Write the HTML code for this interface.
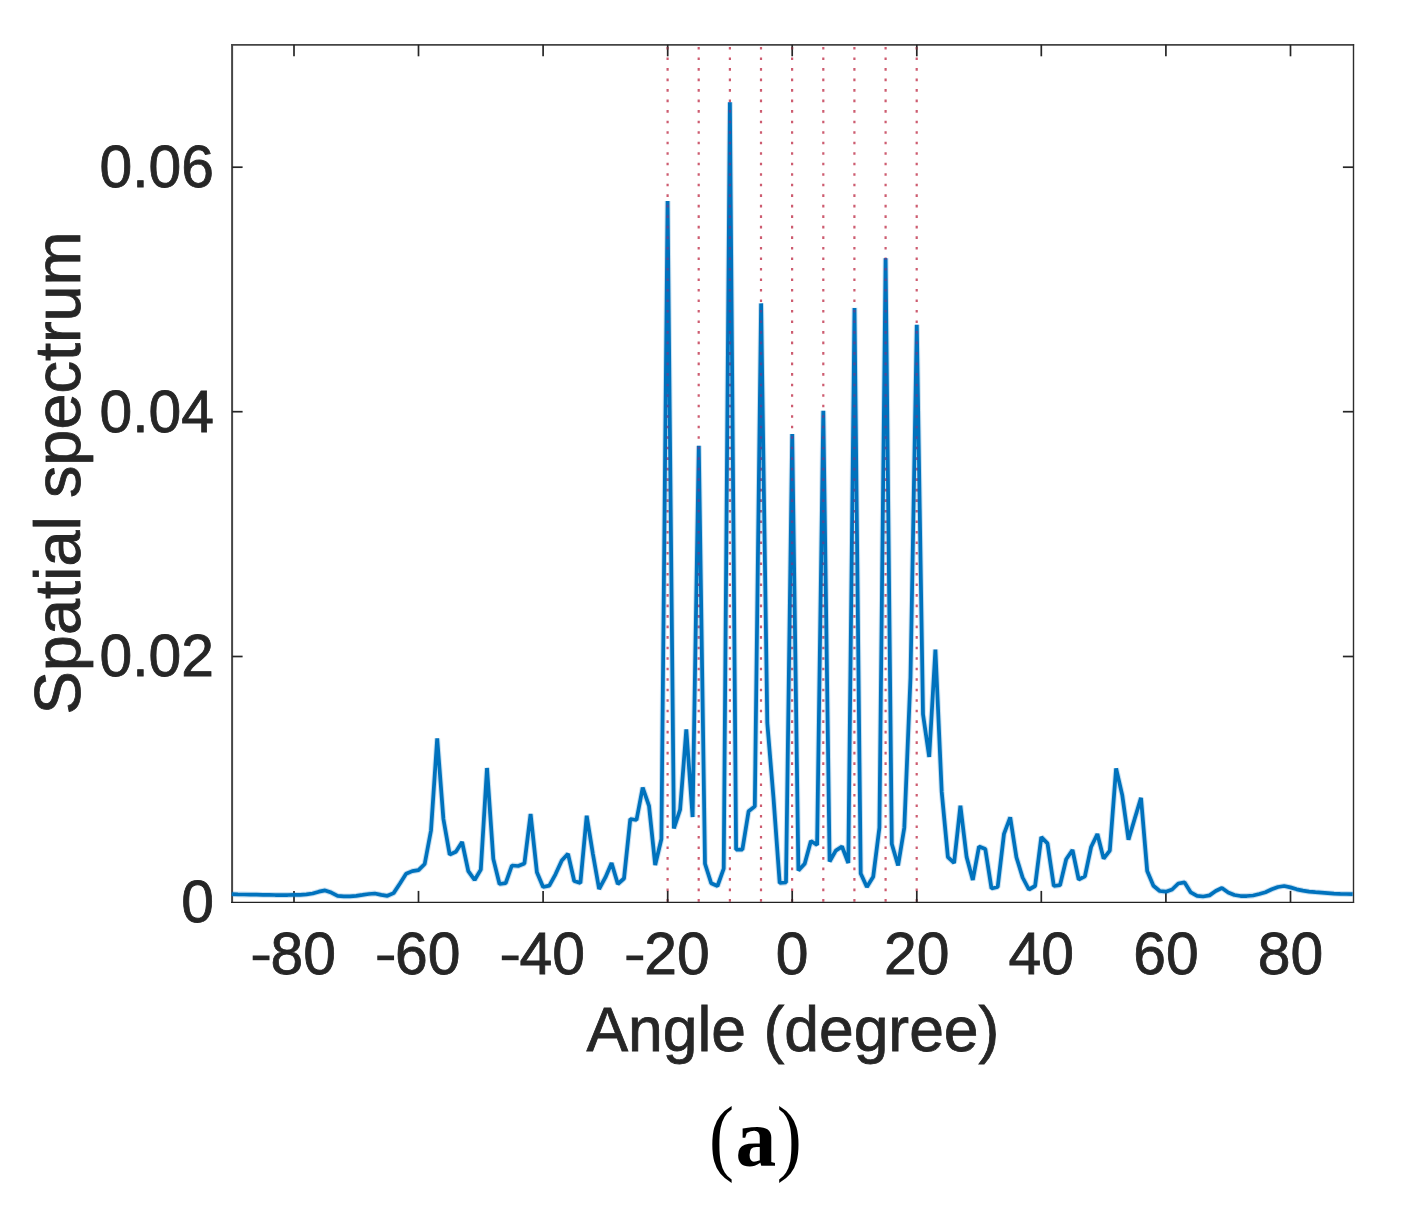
<!DOCTYPE html>
<html><head><meta charset="utf-8"><style>
html,body{margin:0;padding:0;background:#fff;}
body{width:1406px;height:1222px;overflow:hidden;}
svg{display:block;}
text{font-family:"Liberation Sans",sans-serif;fill:#262626;stroke:#262626;stroke-width:0.8px;}
</style></head><body>
<svg width="1406" height="1222" viewBox="0 0 1406 1222">
<rect x="0" y="0" width="1406" height="1222" fill="#fff"/>
<line x1="667.6" y1="47.0" x2="667.6" y2="902.4" stroke="rgb(205,92,112)" stroke-width="2.2" stroke-dasharray="2.6 7.92"/>
<line x1="698.7" y1="47.0" x2="698.7" y2="902.4" stroke="rgb(205,92,112)" stroke-width="2.2" stroke-dasharray="2.6 7.92"/>
<line x1="729.9" y1="47.0" x2="729.9" y2="902.4" stroke="rgb(205,92,112)" stroke-width="2.2" stroke-dasharray="2.6 7.92"/>
<line x1="761.0" y1="47.0" x2="761.0" y2="902.4" stroke="rgb(205,92,112)" stroke-width="2.2" stroke-dasharray="2.6 7.92"/>
<line x1="792.1" y1="47.0" x2="792.1" y2="902.4" stroke="rgb(205,92,112)" stroke-width="2.2" stroke-dasharray="2.6 7.92"/>
<line x1="823.3" y1="47.0" x2="823.3" y2="902.4" stroke="rgb(205,92,112)" stroke-width="2.2" stroke-dasharray="2.6 7.92"/>
<line x1="854.4" y1="47.0" x2="854.4" y2="902.4" stroke="rgb(205,92,112)" stroke-width="2.2" stroke-dasharray="2.6 7.92"/>
<line x1="885.6" y1="47.0" x2="885.6" y2="902.4" stroke="rgb(205,92,112)" stroke-width="2.2" stroke-dasharray="2.6 7.92"/>
<line x1="916.7" y1="47.0" x2="916.7" y2="902.4" stroke="rgb(205,92,112)" stroke-width="2.2" stroke-dasharray="2.6 7.92"/>
<line x1="231.2" y1="44.8" x2="1354.1000000000001" y2="44.8" stroke="#444" stroke-width="1.8"/>
<line x1="232.1" y1="43.9" x2="232.1" y2="903.05" stroke="#464646" stroke-width="2.0"/>
<line x1="231.1" y1="902.4" x2="1354.1000000000001" y2="902.4" stroke="#222" stroke-width="1.3"/>
<line x1="1353.5" y1="43.9" x2="1353.5" y2="903.05" stroke="#2d2d2d" stroke-width="1.4"/>
<line x1="294.0" y1="902.4" x2="294.0" y2="890.9" stroke="#262626" stroke-width="1.7"/>
<line x1="294.0" y1="44.8" x2="294.0" y2="56.3" stroke="#262626" stroke-width="1.7"/>
<line x1="418.5" y1="902.4" x2="418.5" y2="890.9" stroke="#262626" stroke-width="1.7"/>
<line x1="418.5" y1="44.8" x2="418.5" y2="56.3" stroke="#262626" stroke-width="1.7"/>
<line x1="543.1" y1="902.4" x2="543.1" y2="890.9" stroke="#262626" stroke-width="1.7"/>
<line x1="543.1" y1="44.8" x2="543.1" y2="56.3" stroke="#262626" stroke-width="1.7"/>
<line x1="667.7" y1="902.4" x2="667.7" y2="890.9" stroke="#262626" stroke-width="1.7"/>
<line x1="667.7" y1="44.8" x2="667.7" y2="56.3" stroke="#262626" stroke-width="1.7"/>
<line x1="792.2" y1="902.4" x2="792.2" y2="890.9" stroke="#262626" stroke-width="1.7"/>
<line x1="792.2" y1="44.8" x2="792.2" y2="56.3" stroke="#262626" stroke-width="1.7"/>
<line x1="916.8" y1="902.4" x2="916.8" y2="890.9" stroke="#262626" stroke-width="1.7"/>
<line x1="916.8" y1="44.8" x2="916.8" y2="56.3" stroke="#262626" stroke-width="1.7"/>
<line x1="1041.3" y1="902.4" x2="1041.3" y2="890.9" stroke="#262626" stroke-width="1.7"/>
<line x1="1041.3" y1="44.8" x2="1041.3" y2="56.3" stroke="#262626" stroke-width="1.7"/>
<line x1="1165.9" y1="902.4" x2="1165.9" y2="890.9" stroke="#262626" stroke-width="1.7"/>
<line x1="1165.9" y1="44.8" x2="1165.9" y2="56.3" stroke="#262626" stroke-width="1.7"/>
<line x1="1290.5" y1="902.4" x2="1290.5" y2="890.9" stroke="#262626" stroke-width="1.7"/>
<line x1="1290.5" y1="44.8" x2="1290.5" y2="56.3" stroke="#262626" stroke-width="1.7"/>
<line x1="232.1" y1="167.2" x2="242.6" y2="167.2" stroke="#262626" stroke-width="1.7"/>
<line x1="1353.4" y1="167.2" x2="1342.9" y2="167.2" stroke="#262626" stroke-width="1.7"/>
<line x1="232.1" y1="411.7" x2="242.6" y2="411.7" stroke="#262626" stroke-width="1.7"/>
<line x1="1353.4" y1="411.7" x2="1342.9" y2="411.7" stroke="#262626" stroke-width="1.7"/>
<line x1="232.1" y1="656.5" x2="242.6" y2="656.5" stroke="#262626" stroke-width="1.7"/>
<line x1="1353.4" y1="656.5" x2="1342.9" y2="656.5" stroke="#262626" stroke-width="1.7"/>
<polyline points="231.7,894.2 237.9,894.4 244.1,894.5 250.4,894.6 256.6,894.7 262.8,894.8 269.0,894.9 275.3,895.0 281.5,895.0 287.7,895.0 294.0,894.9 300.2,894.9 306.4,894.4 312.6,893.5 318.9,891.7 325.1,890.4 331.3,892.6 337.6,895.8 343.8,896.4 350.0,896.4 356.2,895.8 362.5,894.9 368.7,894.0 374.9,893.5 381.2,894.9 387.4,895.8 393.6,893.1 399.8,883.7 406.1,873.8 412.3,871.1 418.5,870.2 424.7,864.0 431.0,830.5 437.2,738.5 443.4,819.0 449.7,854.6 455.9,851.7 462.1,842.0 468.3,871.1 474.6,880.0 480.8,869.6 487.0,768.0 493.3,858.9 499.5,884.0 505.7,883.2 511.9,865.5 518.2,866.0 524.4,863.5 530.6,814.0 536.9,872.3 543.1,887.0 549.3,885.6 555.5,874.3 561.8,860.5 568.0,853.8 574.2,881.0 580.4,883.0 586.7,815.7 592.9,854.0 599.1,889.0 605.4,877.4 611.6,863.0 617.8,884.0 624.0,878.5 630.3,819.0 636.5,820.0 642.7,787.5 649.0,805.8 655.2,865.0 661.4,839.0 667.6,201.1 673.9,828.5 680.1,809.7 686.3,729.5 692.6,817.0 698.8,445.8 705.0,863.7 711.2,883.3 717.5,886.0 723.7,868.6 729.9,102.2 736.1,849.5 742.4,849.5 748.6,811.3 754.8,806.4 761.1,303.4 767.3,723.0 773.5,798.0 779.7,883.0 786.0,882.5 792.2,434.0 798.4,870.5 804.7,863.7 810.9,841.0 817.1,845.0 823.3,410.7 829.6,861.5 835.8,850.6 842.0,846.5 848.3,863.0 854.5,307.9 860.7,873.5 866.9,887.0 873.2,876.8 879.4,827.7 885.6,258.3 891.8,844.0 898.1,865.5 904.3,827.7 910.5,677.5 916.8,324.8 923.0,714.3 929.2,757.0 935.4,649.5 941.7,791.7 947.9,857.1 954.1,863.0 960.4,805.6 966.6,857.1 972.8,880.0 979.0,846.5 985.3,849.0 991.5,888.5 997.7,887.0 1004.0,833.8 1010.2,817.3 1016.4,857.2 1022.6,877.5 1028.9,889.5 1035.1,886.0 1041.3,837.0 1047.5,843.4 1053.8,886.0 1060.0,885.2 1066.2,859.3 1072.5,850.0 1078.7,879.5 1084.9,876.4 1091.1,847.0 1097.4,834.0 1103.6,858.6 1109.8,850.7 1116.1,768.4 1122.3,795.4 1128.5,839.8 1134.7,818.7 1141.0,797.9 1147.2,871.0 1153.4,885.7 1159.7,891.0 1165.9,891.7 1172.1,889.5 1178.3,883.5 1184.6,882.4 1190.8,892.4 1197.0,895.8 1203.2,896.5 1209.5,895.4 1215.7,891.0 1221.9,888.0 1228.2,892.5 1234.4,895.0 1240.6,896.0 1246.8,896.0 1253.1,895.5 1259.3,894.0 1265.5,892.2 1271.8,889.3 1278.0,887.0 1284.2,886.0 1290.4,887.4 1296.7,889.3 1302.9,890.7 1309.1,891.7 1315.4,892.2 1321.6,892.6 1327.8,893.1 1334.0,893.6 1340.3,893.9 1346.5,894.0 1352.7,894.2" fill="none" stroke="#0072BD" stroke-opacity="0.22" stroke-width="5.8" stroke-linejoin="bevel" stroke-linecap="butt"/>
<polyline points="231.7,894.2 237.9,894.4 244.1,894.5 250.4,894.6 256.6,894.7 262.8,894.8 269.0,894.9 275.3,895.0 281.5,895.0 287.7,895.0 294.0,894.9 300.2,894.9 306.4,894.4 312.6,893.5 318.9,891.7 325.1,890.4 331.3,892.6 337.6,895.8 343.8,896.4 350.0,896.4 356.2,895.8 362.5,894.9 368.7,894.0 374.9,893.5 381.2,894.9 387.4,895.8 393.6,893.1 399.8,883.7 406.1,873.8 412.3,871.1 418.5,870.2 424.7,864.0 431.0,830.5 437.2,738.5 443.4,819.0 449.7,854.6 455.9,851.7 462.1,842.0 468.3,871.1 474.6,880.0 480.8,869.6 487.0,768.0 493.3,858.9 499.5,884.0 505.7,883.2 511.9,865.5 518.2,866.0 524.4,863.5 530.6,814.0 536.9,872.3 543.1,887.0 549.3,885.6 555.5,874.3 561.8,860.5 568.0,853.8 574.2,881.0 580.4,883.0 586.7,815.7 592.9,854.0 599.1,889.0 605.4,877.4 611.6,863.0 617.8,884.0 624.0,878.5 630.3,819.0 636.5,820.0 642.7,787.5 649.0,805.8 655.2,865.0 661.4,839.0 667.6,201.1 673.9,828.5 680.1,809.7 686.3,729.5 692.6,817.0 698.8,445.8 705.0,863.7 711.2,883.3 717.5,886.0 723.7,868.6 729.9,102.2 736.1,849.5 742.4,849.5 748.6,811.3 754.8,806.4 761.1,303.4 767.3,723.0 773.5,798.0 779.7,883.0 786.0,882.5 792.2,434.0 798.4,870.5 804.7,863.7 810.9,841.0 817.1,845.0 823.3,410.7 829.6,861.5 835.8,850.6 842.0,846.5 848.3,863.0 854.5,307.9 860.7,873.5 866.9,887.0 873.2,876.8 879.4,827.7 885.6,258.3 891.8,844.0 898.1,865.5 904.3,827.7 910.5,677.5 916.8,324.8 923.0,714.3 929.2,757.0 935.4,649.5 941.7,791.7 947.9,857.1 954.1,863.0 960.4,805.6 966.6,857.1 972.8,880.0 979.0,846.5 985.3,849.0 991.5,888.5 997.7,887.0 1004.0,833.8 1010.2,817.3 1016.4,857.2 1022.6,877.5 1028.9,889.5 1035.1,886.0 1041.3,837.0 1047.5,843.4 1053.8,886.0 1060.0,885.2 1066.2,859.3 1072.5,850.0 1078.7,879.5 1084.9,876.4 1091.1,847.0 1097.4,834.0 1103.6,858.6 1109.8,850.7 1116.1,768.4 1122.3,795.4 1128.5,839.8 1134.7,818.7 1141.0,797.9 1147.2,871.0 1153.4,885.7 1159.7,891.0 1165.9,891.7 1172.1,889.5 1178.3,883.5 1184.6,882.4 1190.8,892.4 1197.0,895.8 1203.2,896.5 1209.5,895.4 1215.7,891.0 1221.9,888.0 1228.2,892.5 1234.4,895.0 1240.6,896.0 1246.8,896.0 1253.1,895.5 1259.3,894.0 1265.5,892.2 1271.8,889.3 1278.0,887.0 1284.2,886.0 1290.4,887.4 1296.7,889.3 1302.9,890.7 1309.1,891.7 1315.4,892.2 1321.6,892.6 1327.8,893.1 1334.0,893.6 1340.3,893.9 1346.5,894.0 1352.7,894.2" fill="none" stroke="#0072BD" stroke-width="3.75" stroke-linejoin="bevel" stroke-linecap="butt"/>
<mask id="cm" maskUnits="userSpaceOnUse" x="0" y="0" width="1406" height="1222"><polyline points="231.7,894.2 237.9,894.4 244.1,894.5 250.4,894.6 256.6,894.7 262.8,894.8 269.0,894.9 275.3,895.0 281.5,895.0 287.7,895.0 294.0,894.9 300.2,894.9 306.4,894.4 312.6,893.5 318.9,891.7 325.1,890.4 331.3,892.6 337.6,895.8 343.8,896.4 350.0,896.4 356.2,895.8 362.5,894.9 368.7,894.0 374.9,893.5 381.2,894.9 387.4,895.8 393.6,893.1 399.8,883.7 406.1,873.8 412.3,871.1 418.5,870.2 424.7,864.0 431.0,830.5 437.2,738.5 443.4,819.0 449.7,854.6 455.9,851.7 462.1,842.0 468.3,871.1 474.6,880.0 480.8,869.6 487.0,768.0 493.3,858.9 499.5,884.0 505.7,883.2 511.9,865.5 518.2,866.0 524.4,863.5 530.6,814.0 536.9,872.3 543.1,887.0 549.3,885.6 555.5,874.3 561.8,860.5 568.0,853.8 574.2,881.0 580.4,883.0 586.7,815.7 592.9,854.0 599.1,889.0 605.4,877.4 611.6,863.0 617.8,884.0 624.0,878.5 630.3,819.0 636.5,820.0 642.7,787.5 649.0,805.8 655.2,865.0 661.4,839.0 667.6,201.1 673.9,828.5 680.1,809.7 686.3,729.5 692.6,817.0 698.8,445.8 705.0,863.7 711.2,883.3 717.5,886.0 723.7,868.6 729.9,102.2 736.1,849.5 742.4,849.5 748.6,811.3 754.8,806.4 761.1,303.4 767.3,723.0 773.5,798.0 779.7,883.0 786.0,882.5 792.2,434.0 798.4,870.5 804.7,863.7 810.9,841.0 817.1,845.0 823.3,410.7 829.6,861.5 835.8,850.6 842.0,846.5 848.3,863.0 854.5,307.9 860.7,873.5 866.9,887.0 873.2,876.8 879.4,827.7 885.6,258.3 891.8,844.0 898.1,865.5 904.3,827.7 910.5,677.5 916.8,324.8 923.0,714.3 929.2,757.0 935.4,649.5 941.7,791.7 947.9,857.1 954.1,863.0 960.4,805.6 966.6,857.1 972.8,880.0 979.0,846.5 985.3,849.0 991.5,888.5 997.7,887.0 1004.0,833.8 1010.2,817.3 1016.4,857.2 1022.6,877.5 1028.9,889.5 1035.1,886.0 1041.3,837.0 1047.5,843.4 1053.8,886.0 1060.0,885.2 1066.2,859.3 1072.5,850.0 1078.7,879.5 1084.9,876.4 1091.1,847.0 1097.4,834.0 1103.6,858.6 1109.8,850.7 1116.1,768.4 1122.3,795.4 1128.5,839.8 1134.7,818.7 1141.0,797.9 1147.2,871.0 1153.4,885.7 1159.7,891.0 1165.9,891.7 1172.1,889.5 1178.3,883.5 1184.6,882.4 1190.8,892.4 1197.0,895.8 1203.2,896.5 1209.5,895.4 1215.7,891.0 1221.9,888.0 1228.2,892.5 1234.4,895.0 1240.6,896.0 1246.8,896.0 1253.1,895.5 1259.3,894.0 1265.5,892.2 1271.8,889.3 1278.0,887.0 1284.2,886.0 1290.4,887.4 1296.7,889.3 1302.9,890.7 1309.1,891.7 1315.4,892.2 1321.6,892.6 1327.8,893.1 1334.0,893.6 1340.3,893.9 1346.5,894.0 1352.7,894.2" fill="none" stroke="#fff" stroke-width="3.75" stroke-linejoin="bevel"/></mask>
<g mask="url(#cm)"><line x1="667.6" y1="47.0" x2="667.6" y2="902.4" stroke="rgb(85,72,150)" stroke-width="2.2" stroke-dasharray="2.6 7.92"/><line x1="698.7" y1="47.0" x2="698.7" y2="902.4" stroke="rgb(85,72,150)" stroke-width="2.2" stroke-dasharray="2.6 7.92"/><line x1="729.9" y1="47.0" x2="729.9" y2="902.4" stroke="rgb(85,72,150)" stroke-width="2.2" stroke-dasharray="2.6 7.92"/><line x1="761.0" y1="47.0" x2="761.0" y2="902.4" stroke="rgb(85,72,150)" stroke-width="2.2" stroke-dasharray="2.6 7.92"/><line x1="792.1" y1="47.0" x2="792.1" y2="902.4" stroke="rgb(85,72,150)" stroke-width="2.2" stroke-dasharray="2.6 7.92"/><line x1="823.3" y1="47.0" x2="823.3" y2="902.4" stroke="rgb(85,72,150)" stroke-width="2.2" stroke-dasharray="2.6 7.92"/><line x1="854.4" y1="47.0" x2="854.4" y2="902.4" stroke="rgb(85,72,150)" stroke-width="2.2" stroke-dasharray="2.6 7.92"/><line x1="885.6" y1="47.0" x2="885.6" y2="902.4" stroke="rgb(85,72,150)" stroke-width="2.2" stroke-dasharray="2.6 7.92"/><line x1="916.7" y1="47.0" x2="916.7" y2="902.4" stroke="rgb(85,72,150)" stroke-width="2.2" stroke-dasharray="2.6 7.92"/></g>
<g opacity="0.3"><line x1="667.6" y1="47.0" x2="667.6" y2="56.3" stroke="rgb(205,92,112)" stroke-width="2.2" stroke-dasharray="2.6 7.92"/><line x1="792.1" y1="47.0" x2="792.1" y2="56.3" stroke="rgb(205,92,112)" stroke-width="2.2" stroke-dasharray="2.6 7.92"/><line x1="916.7" y1="47.0" x2="916.7" y2="56.3" stroke="rgb(205,92,112)" stroke-width="2.2" stroke-dasharray="2.6 7.92"/></g>
<text x="335.9" y="973.7" text-anchor="end" font-size="58.8">80</text>
<rect x="252.70" y="955.5" width="16.8" height="4.7" fill="#262626"/>
<text x="460.4" y="973.7" text-anchor="end" font-size="58.8">60</text>
<rect x="377.26" y="955.5" width="16.8" height="4.7" fill="#262626"/>
<text x="585.0" y="973.7" text-anchor="end" font-size="58.8">40</text>
<rect x="501.82" y="955.5" width="16.8" height="4.7" fill="#262626"/>
<text x="709.6" y="973.7" text-anchor="end" font-size="58.8">20</text>
<rect x="626.38" y="955.5" width="16.8" height="4.7" fill="#262626"/>
<text x="792.2" y="973.7" text-anchor="middle" font-size="58.8">0</text>
<text x="916.8" y="973.7" text-anchor="middle" font-size="58.8">20</text>
<text x="1041.3" y="973.7" text-anchor="middle" font-size="58.8">40</text>
<text x="1165.9" y="973.7" text-anchor="middle" font-size="58.8">60</text>
<text x="1290.5" y="973.7" text-anchor="middle" font-size="58.8">80</text>
<text x="214" y="187.0" text-anchor="end" font-size="58.8">0.06</text>
<text x="214" y="431.5" text-anchor="end" font-size="58.8">0.04</text>
<text x="214" y="676.3" text-anchor="end" font-size="58.8">0.02</text>
<text x="214" y="922.2" text-anchor="end" font-size="58.8">0</text>
<text x="586.4" y="1051" font-size="63.5" textLength="413" lengthAdjust="spacingAndGlyphs">Angle (degree)</text>
<text transform="translate(79.6,714.4) rotate(-90)" x="0" y="0" font-size="64" textLength="483" lengthAdjust="spacingAndGlyphs">Spatial spectrum</text>
<text transform="translate(709.0,1165.2) scale(0.88,1)" x="0" y="0" style="font-family:'Liberation Serif',serif;fill:#000;stroke:none" font-size="85.5">(</text>
<text transform="translate(735.5,1165.6) scale(1.0,1)" x="0" y="0" style="font-family:'Liberation Serif',serif;fill:#000;stroke:none;font-weight:bold" font-size="81.5">a</text>
<text transform="translate(776.8,1165.2) scale(0.88,1)" x="0" y="0" style="font-family:'Liberation Serif',serif;fill:#000;stroke:none" font-size="85.5">)</text>
</svg>
</body></html>
